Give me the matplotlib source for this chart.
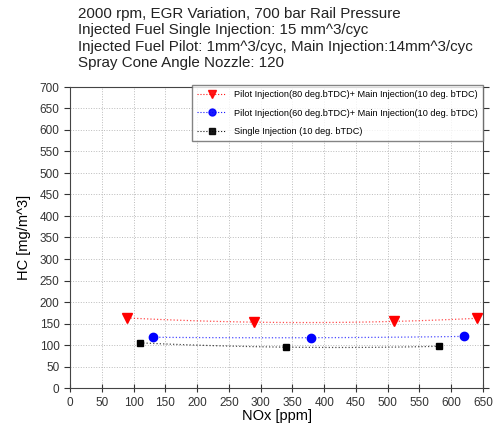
import numpy as np
import matplotlib.pyplot as plt

# NOx [ppm] and HC [mg/m^3]
pilot80_nox = [90, 290, 510, 640]
pilot80_hc = [163, 153, 155, 162]
pilot60_nox = [130, 380, 620]
pilot60_hc = [118, 117, 120]
single_nox = [110, 340, 580]
single_hc = [105, 95, 97]

labels = ['Pilot Injection(80 deg.bTDC)+ Main Injection(10 deg. bTDC)',
          'Pilot Injection(60 deg.bTDC)+ Main Injection(10 deg. bTDC)',
          'Single Injection (10 deg. bTDC)']
title_lines = ['2000 rpm, EGR Variation, 700 bar Rail Pressure',
               'Injected Fuel Single Injection: 15 mm^3/cyc',
               'Injected Fuel Pilot: 1mm^3/cyc, Main Injection:14mm^3/cyc',
               'Spray Cone Angle Nozzle: 120']

plt.rcParams['font.family'] = ['Liberation Sans', 'DejaVu Sans']

fig = plt.figure(figsize=(4.94, 4.23), dpi=100)
ax = fig.add_axes([70 / 494, 35 / 423, 413 / 494, 301 / 423])

series = [(pilot80_nox, pilot80_hc, 'red', 'v', 7),
          (pilot60_nox, pilot60_hc, 'blue', 'o', 6),
          (single_nox, single_hc, 'black', 's', 5)]

for (x, y, c, m, ms), lab in zip(series, labels):
    # dotted trend curve through each series
    p = np.polyfit(x, y, 2)
    xx = np.linspace(min(x), max(x), 100)
    ax.plot(xx, np.polyval(p, xx), ':', color=c, lw=0.9, alpha=0.7)
    ax.plot(x, y, linestyle='none', marker=m, color=c, markersize=ms)
    ax.plot([], [], ':', color=c, marker=m, markersize=ms - 1, lw=0.8, alpha=0.9, label=lab)

ax.set_xlim(0, 650)
ax.set_ylim(0, 700)
ax.set_xticks(np.arange(0, 651, 50))
ax.set_yticks(np.arange(0, 701, 50))
ax.tick_params(labelsize=8.5, colors='#333333', length=4, direction='out')
ax.tick_params(axis='x', direction='inout', length=6)
ax.tick_params(axis='y', right=True, which='both')
ax.grid(True, linestyle=':', color='#bbbbbb', lw=0.7)
for s in ax.spines.values():
    s.set_color('#444444')

ax.set_xlabel('NOx [ppm]', fontsize=10.5, labelpad=0)
ax.set_ylabel('HC [mg/m^3]', fontsize=10.5, labelpad=6)

ax.legend(loc='upper right', bbox_to_anchor=(1.0, 1.007), fontsize=6.6, frameon=True,
          fancybox=False, edgecolor='#666666', borderaxespad=0, borderpad=0.6,
          handlelength=3.2, labelspacing=1.0, handletextpad=0.8)

fig.text(78 / 494, 1 - 7 / 423, '\n'.join(title_lines), fontsize=10.9,
         va='top', ha='left', linespacing=1.22, color='#222222')

fig.savefig('out.png', dpi=100)
